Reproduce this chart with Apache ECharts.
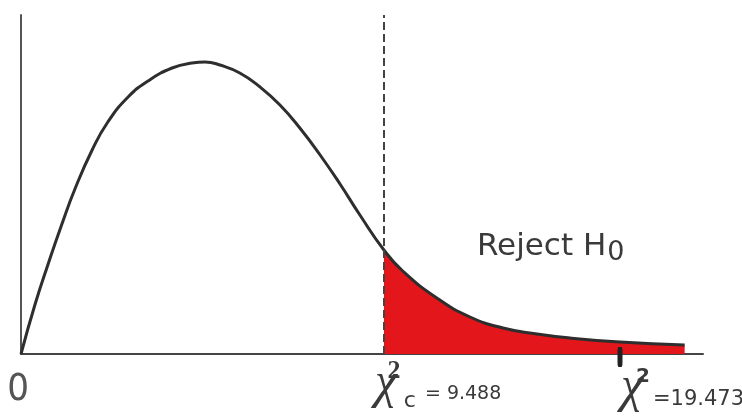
<!DOCTYPE html>
<html>
<head>
<meta charset="utf-8">
<script src="https://cdn.jsdelivr.net/npm/echarts@6/dist/echarts.min.js"></script>
<style>
  html, body { margin: 0; padding: 0; background: #fff; }
  #chart { width: 742px; height: 420px; }
</style>
</head>
<body>
<div id="chart"></div>
<script>
// curve (x in chi-square units, y = density-ish height)
const curveX = [0, 0.37, 0.71, 1.07, 1.41, 1.86, 2.27, 2.8, 3.32, 3.95, 4.47, 4.81, 5.2, 5.72, 6.25, 6.77, 7.29, 7.82, 8.34, 8.86, 9.488,
  9.98, 10.87, 11.74, 12.6, 13.49, 14.35, 15.66, 17.35];
const curveY = [0, 0.05, 0.09, 0.13, 0.165, 0.204, 0.232, 0.257, 0.273, 0.286, 0.291, 0.292, 0.289, 0.281, 0.267, 0.249, 0.226, 0.199, 0.17, 0.139, 0.104,
  0.083, 0.056, 0.037, 0.026, 0.02, 0.016, 0.012, 0.009];

const critical = 9.488;      // chi2 critical value
const observed = 15.66;      // where the observed statistic is drawn
const criticalText = '= 9.488';
const observedText = '=19.473';
const rejectText = 'Reject H';
const rejectAt = [11.92, 0.107];

const curve = curveX.map((x, i) => [x, curveY[i]]);
const tail = curve.filter((p) => p[0] >= critical);

const ink = '#3a3a3a';
const plainLabel = (text, offset, style) => ({
  coord: [0, 0],
  symbolSize: 1,
  itemStyle: { color: 'transparent' },
  label: Object.assign({
    show: true,
    position: 'inside',
    formatter: text,
    offset: offset,
    color: ink,
    align: 'center',
    verticalAlign: 'middle',
  }, style),
});

const at = (coord, item) => { item.coord = coord; return item; };

let chartDom = document.getElementById('chart');
let myChart = echarts.init(chartDom);
let option;

option = {
  animation: false,
  grid: { left: 21, right: 39, top: 15, bottom: 66 },
  xAxis: {
    type: 'value',
    min: 0,
    max: 17.83,
    axisLine: { show: true, lineStyle: { color: '#444', width: 2 } },
    axisTick: { show: false },
    axisLabel: { show: false },
    splitLine: { show: false },
  },
  yAxis: {
    type: 'value',
    min: 0,
    max: 0.339,
    axisLine: { show: true, lineStyle: { color: '#555', width: 2 } },
    axisTick: { show: false },
    axisLabel: { show: false },
    splitLine: { show: false },
  },
  series: [
    {
      name: 'reject',
      type: 'line',
      data: tail,
      smooth: 0.5,
      showSymbol: false,
      lineStyle: { width: 0 },
      areaStyle: { color: '#e2161b', opacity: 1 },
      z: 2,
    },
    {
      name: 'chi2',
      type: 'line',
      data: curve,
      smooth: 0.5,
      showSymbol: false,
      lineStyle: { color: '#2e2e2e', width: 3 },
      z: 3,
      markLine: {
        silent: true,
        symbol: 'none',
        label: { show: false },
        lineStyle: { color: '#444', width: 2, type: [8, 4] },
        data: [{ xAxis: critical }],
      },
      markPoint: {
        silent: true,
        data: [
          at([0, 0], plainLabel('0', [-3, 37], { fontFamily: 'Liberation Sans Narrow, DejaVu Sans Condensed, Liberation Sans', fontSize: 38, color: '#555' })),
          at([critical, 0], plainLabel('χ', [2, 30], { fontFamily: 'Liberation Serif', fontStyle: 'italic', fontSize: 50 })),
          at([critical, 0], plainLabel('2', [10, 18], { fontFamily: 'Liberation Serif', fontWeight: 'bold', fontSize: 26 })),
          at([critical, 0], plainLabel('c', [26, 48], { fontFamily: 'DejaVu Sans', fontSize: 22 })),
          at([critical, 0], plainLabel(criticalText, [41, 41], { fontFamily: 'DejaVu Sans', fontSize: 19, align: 'left' })),
          {
            coord: [observed, 0],
            symbol: 'roundRect',
            symbolSize: [5, 20],
            symbolOffset: [0, 3],
            itemStyle: { color: '#222' },
            label: { show: false },
          },
          at([observed, 0], plainLabel('χ', [12, 34], { fontFamily: 'Liberation Serif', fontStyle: 'italic', fontSize: 50 })),
          at([observed, 0], plainLabel('2', [23, 23], { fontFamily: 'DejaVu Sans', fontWeight: 'bold', fontSize: 20 })),
          at([observed, 0], plainLabel(observedText, [33, 46], { fontFamily: 'DejaVu Sans', fontSize: 21, align: 'left' })),
          at(rejectAt, plainLabel('{m|' + rejectText + '}{s|0}', [0, 0], {
            align: 'left',
            rich: {
              m: { fontFamily: 'DejaVu Sans', fontSize: 31, color: ink, verticalAlign: 'top', lineHeight: 31 },
              s: { fontFamily: 'DejaVu Sans', fontSize: 27, color: ink, verticalAlign: 'top', lineHeight: 27, padding: [9, 0, 0, 1] },
            },
          })),
        ],
      },
    },
  ],
};

option && myChart.setOption(option);
</script>
</body>
</html>
